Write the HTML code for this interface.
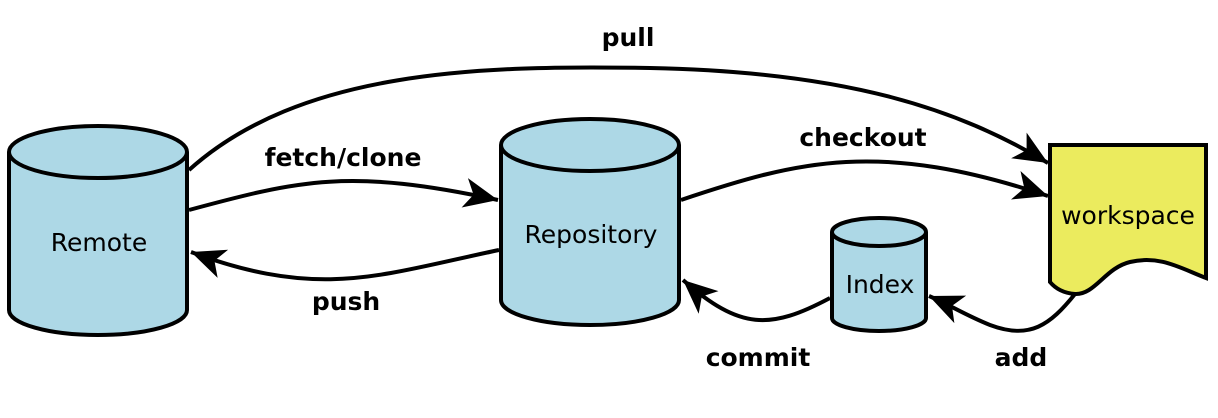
<!DOCTYPE html>
<html><head><meta charset="utf-8"><style>
html,body{margin:0;padding:0;background:#fff;width:1218px;height:418px;overflow:hidden}
svg{display:block}
text{font-family:"DejaVu Sans","Liberation Sans",sans-serif}
.b{font-weight:bold;font-size:25px}
.n{font-size:25px}
</style></head><body>
<svg width="1218" height="418" viewBox="0 0 1218 418" xmlns="http://www.w3.org/2000/svg">
<defs>
<marker id="a" markerUnits="userSpaceOnUse" markerWidth="40" markerHeight="36" refX="36" refY="18" orient="auto">
<path d="M36,18 L2,3 L11,18 L2,33 Z" fill="#000"/>
</marker>
</defs>
<g stroke="#000" stroke-width="4" fill="#add8e6">
<path d="M9,152 L9,310 A89,25 0 0 0 187,310 L187,152"/>
<ellipse cx="98" cy="152" rx="89" ry="26"/>
<path d="M501,145 L501,300 A89,25 0 0 0 679,300 L679,145"/>
<ellipse cx="590" cy="145" rx="89" ry="26"/>
<path d="M832,232 L832,318 A47,13 0 0 0 926,318 L926,232"/>
<ellipse cx="879" cy="232" rx="47" ry="14"/>
<path d="M1050,145 L1206,145 L1206,278 C1180,268 1160,255 1130,262 C1105,268 1095,295 1075,294 C1062,293 1055,288 1050,282 Z" fill="#ebeb5e"/>
</g>
<g stroke="#000" stroke-width="4" fill="none">
<path d="M189,170 C300,70 480,65 650,68 C850,72 960,110 1048,163" marker-end="url(#a)"/>
<path d="M189,210 C300,180 350,168 498,200" marker-end="url(#a)"/>
<path d="M499,250 C380,275 320,300 191,252" marker-end="url(#a)"/>
<path d="M681,200 C800,160 880,140 1048,196" marker-end="url(#a)"/>
<path d="M830,298 C770,330 740,330 683,280" marker-end="url(#a)"/>
<path d="M1075,294 C1050,325 1030,340 990,325 C965,315 950,305 929,296" marker-end="url(#a)"/>
</g>
<text x="628" y="46" class="b" text-anchor="middle">pull</text>
<text x="343" y="166" class="b" text-anchor="middle">fetch/clone</text>
<text x="346" y="310" class="b" text-anchor="middle">push</text>
<text x="863" y="146" class="b" text-anchor="middle">checkout</text>
<text x="758" y="366" class="b" text-anchor="middle">commit</text>
<text x="1021" y="366" class="b" text-anchor="middle">add</text>
<text x="99" y="251" class="n" text-anchor="middle">Remote</text>
<text x="591" y="243" class="n" text-anchor="middle">Repository</text>
<text x="880" y="293" class="n" text-anchor="middle">Index</text>
<text x="1128" y="224" class="n" text-anchor="middle">workspace</text>
</svg>
</body></html>
